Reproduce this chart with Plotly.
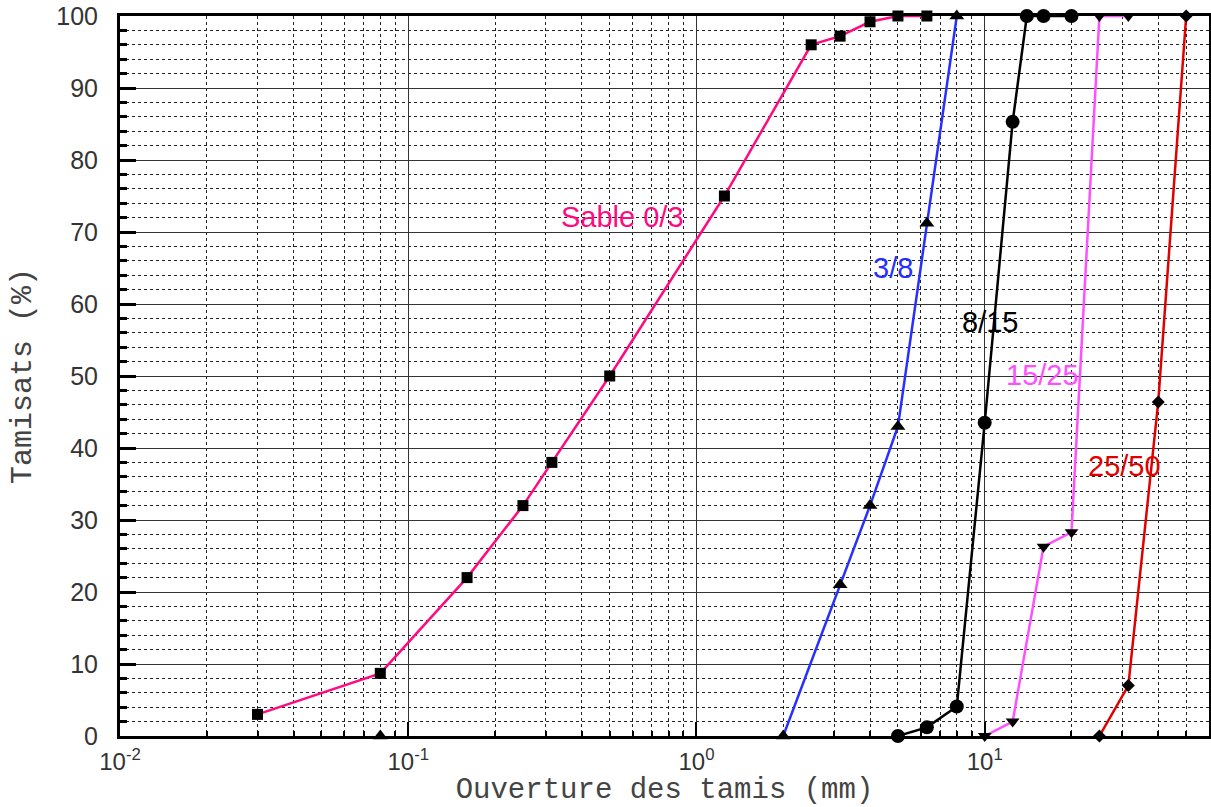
import math
import plotly.graph_objects as go

# ---- data (sieve opening in mm, percent passing) ----
sable_x = [0.03, 0.08, 0.16, 0.25, 0.315, 0.5, 1.25, 2.5, 3.15, 4, 5, 6.3]
sable_y = [3, 8.7, 22, 32, 38, 50, 75, 96, 97.2, 99.2, 100, 100]

# None = no line drawn between the 0.08 mm point and the 2 mm point
g38_x = [0.08, None, 2, 3.15, 4, 5, 6.3, 8]
g38_y = [0, None, 0, 21, 32, 43, 71.2, 100]

g815_x = [5, 6.3, 8, 10, 12.5, 14, 16, 20]
g815_y = [0, 1.2, 4.1, 43.5, 85.3, 100, 100, 100]

g1525_x = [10, 12.5, 16, 20, 25, 31.5]
g1525_y = [0, 2, 26.3, 28.3, 100, 100]

g2550_x = [25, 31.5, 40, 50]
g2550_y = [0, 7, 46.4, 100]

labels = ["Sable 0/3", "3/8", "8/15", "15/25", "25/50"]
label_x = [0.556, 4.80, 10.4, 15.9, 30.5]
label_y = [72.1, 65, 57.5, 50.2, 37.5]

colors = ["#FF0A80", "#2830FF", "#000000", "#FF50FF", "#E00000"]
symbols = ["square", "triangle-up", "circle", "triangle-down", "diamond"]
msizes = [11, 13, 14, 12, 10]

xtick_vals = [0.01, 0.1, 1, 10]
xtick_text = ["10<sup>-2</sup>", "10<sup>-1</sup>", "10<sup>0</sup>", "10<sup>1</sup>"]
x_minor = [m * d for d in [0.01, 0.1, 1, 10] for m in range(2, 10) if m * d < 60]

series = [(sable_x, sable_y), (g38_x, g38_y), (g815_x, g815_y),
          (g1525_x, g1525_y), (g2550_x, g2550_y)]

fig = go.Figure()
for (xs, ys), c, s, ms in zip(series, colors, symbols, msizes):
    fig.add_trace(go.Scatter(
        x=xs, y=ys, mode="lines+markers", connectgaps=False,
        line=dict(color=c, width=2.5),
        marker=dict(symbol=s, size=ms, color="black", line=dict(width=0)),
        cliponaxis=False, showlegend=False, hoverinfo="skip"))

for t, lx, ly, c in zip(labels, label_x, label_y, colors):
    fig.add_annotation(x=math.log10(lx), y=ly, xref="x", yref="y", text=t,
                       showarrow=False,
                       font=dict(family="Liberation Sans, Arial", size=29, color=c))

fig.update_xaxes(
    type="log", range=[-2, math.log10(60)],
    tickmode="array", tickvals=xtick_vals, ticktext=xtick_text,
    ticks="inside", ticklen=14, tickwidth=1.5, tickcolor="black",
    showline=True, linecolor="black", linewidth=3, mirror=True,
    layer="below traces",
    showgrid=True, gridcolor="#333333", gridwidth=1,
    minor=dict(tickmode="array", tickvals=x_minor, ticks="inside", ticklen=5,
               tickcolor="black", showgrid=True, gridcolor="#222222",
               griddash="dot", gridwidth=1),
    tickfont=dict(family="Liberation Sans, Arial", size=24, color="#333333"),
    ticklabelstandoff=2,
    title=dict(text="Ouverture des tamis (mm)",
               font=dict(family="Liberation Mono, Courier New, monospace", size=29, color="#444444"),
               standoff=14),
    zeroline=False,
)
fig.update_yaxes(
    range=[0, 100], tickmode="linear", tick0=0, dtick=10,
    ticks="inside", ticklen=16, tickwidth=3, tickcolor="black",
    showline=True, linecolor="black", linewidth=3, mirror=True,
    layer="below traces",
    showgrid=True, gridcolor="#333333", gridwidth=1,
    minor=dict(dtick=2, ticks="inside", ticklen=7, tickcolor="black",
               showgrid=True, gridcolor="#222222", griddash="dot", gridwidth=1),
    tickfont=dict(family="Liberation Sans, Arial", size=25, color="#333333"),
    ticklabelstandoff=14,
    title=dict(text="Tamisats (%)",
               font=dict(family="Liberation Mono, Courier New, monospace", size=30, color="#444444"),
               standoff=16),
    zeroline=False,
)

fig.update_layout(
    width=1211, height=807,
    margin=dict(l=120, r=2, t=16, b=71, autoexpand=False),
    paper_bgcolor="white", plot_bgcolor="white",
    showlegend=False,
)

fig.write_html("out.html")
